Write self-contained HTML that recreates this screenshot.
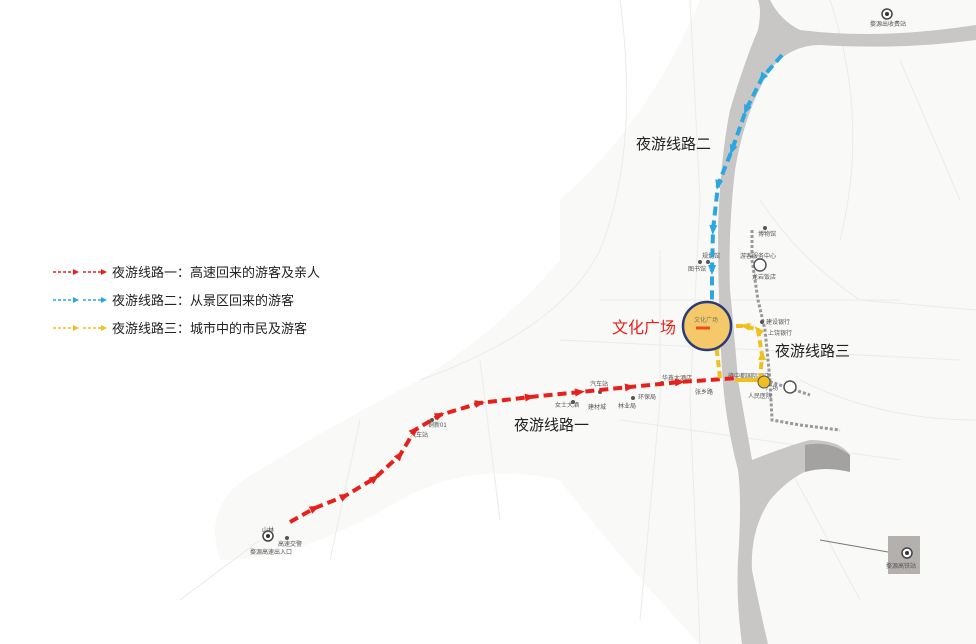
<!DOCTYPE html>
<html><head><meta charset="utf-8"><style>
html,body{margin:0;padding:0;background:#fff;}
svg{display:block;font-family:"Liberation Sans","Noto Sans CJK SC",sans-serif;}
</style></head><body>
<svg width="976" height="644" viewBox="0 0 976 644" xmlns="http://www.w3.org/2000/svg">
<defs>
<marker id="ar" markerUnits="userSpaceOnUse" markerWidth="10" markerHeight="10" refX="5" refY="5" orient="auto"><path d="M0,1 L10,5 L0,9 z" fill="#e8201c"/></marker>
<marker id="ab" markerUnits="userSpaceOnUse" markerWidth="10" markerHeight="10" refX="5" refY="5" orient="auto"><path d="M0,1 L10,5 L0,9 z" fill="#2aa6e0"/></marker>
<marker id="ay" markerUnits="userSpaceOnUse" markerWidth="10" markerHeight="10" refX="5" refY="5" orient="auto"><path d="M0,1 L10,5 L0,9 z" fill="#f2c01e"/></marker>
<marker id="lr" markerUnits="userSpaceOnUse" markerWidth="6" markerHeight="6" refX="3" refY="3" orient="auto"><path d="M0,0 L6,3 L0,6 z" fill="#e8201c"/></marker>
<marker id="lb" markerUnits="userSpaceOnUse" markerWidth="6" markerHeight="6" refX="3" refY="3" orient="auto"><path d="M0,0 L6,3 L0,6 z" fill="#2aa6e0"/></marker>
<marker id="ly" markerUnits="userSpaceOnUse" markerWidth="6" markerHeight="6" refX="3" refY="3" orient="auto"><path d="M0,0 L6,3 L0,6 z" fill="#f2c01e"/></marker>
</defs>
<rect width="976" height="644" fill="#fff"/>
<!-- faint map backdrop -->
<path d="M560,200 Q650,120 700,0 L976,0 L976,644 L700,644 Q620,560 560,480 Q470,460 400,500 Q300,560 220,560 Q200,500 260,470 Q340,420 420,380 Q500,330 560,260 Z" fill="#f9f9f8"/>
<g stroke="#ebebea" stroke-width="1" fill="none">
<path d="M620,0 Q640,150 600,250 Q560,330 420,380"/>
<path d="M660,250 L660,400 L640,620"/>
<path d="M690,0 L700,200 L690,400 L700,644"/>
<path d="M760,200 Q800,260 860,300 L976,310"/>
<path d="M600,300 L900,300"/><path d="M560,340 L960,360"/>
<path d="M800,380 Q880,420 976,420"/><path d="M780,450 L860,600"/>
<path d="M480,360 L500,520"/><path d="M360,420 L330,560"/>
<path d="M620,420 L900,460"/><path d="M830,0 Q870,120 840,240"/>
<path d="M900,60 L960,200"/><path d="M260,540 L180,600"/>
</g>
<!-- river -->
<path d="M770,0 Q780,20 800,30 Q880,40 976,25 L976,40 Q900,50 820,45 Q790,45 770,70 Q745,110 735,170 Q728,230 730,290 Q734,330 738,380 Q745,420 752,460 Q790,445 810,440 Q840,440 850,455 L835,465 Q800,465 770,500 Q750,530 752,570 Q760,610 768,644 L742,644 Q736,600 738,560 Q742,500 738,470 Q725,420 722,370 Q718,300 718,230 Q720,160 730,110 Q745,60 758,30 Q762,10 758,0 Z" fill="#c8c7c5"/>
<path d="M805,445 Q830,440 850,455 L850,472 Q825,466 805,472 Z" fill="#a3a2a0"/>
<rect x="888" y="536" width="32" height="38" fill="#b3b0ad"/>
<line x1="820" y1="540" x2="888" y2="552" stroke="#777" stroke-width="1"/>
<!-- grey dotted route -->
<path d="M752,230 L752,260 L758,300 L765,330 L770,380 L772,420 L800,425 L840,430" stroke="#999" stroke-width="3" stroke-dasharray="3,2" fill="none"/>
<path d="M765,380 L810,395" stroke="#999" stroke-width="3" stroke-dasharray="3,2" fill="none"/>
<circle cx="760" cy="265" r="6" fill="#fff" stroke="#555" stroke-width="1.5"/>
<circle cx="790" cy="387" r="6" fill="#fff" stroke="#555" stroke-width="1.5"/>
<circle cx="887" cy="14" r="5" fill="#fff" stroke="#444" stroke-width="1.5"/><circle cx="887" cy="14" r="2" fill="#333"/>
<circle cx="907" cy="553" r="5" fill="#fff" stroke="#444" stroke-width="1.5"/><circle cx="907" cy="553" r="2" fill="#333"/>
<circle cx="268" cy="536" r="5" fill="#fff" stroke="#444" stroke-width="1.5"/><circle cx="268" cy="536" r="2" fill="#333"/>
<!-- small poi dots & labels -->
<g fill="#555" font-size="6">
<circle cx="765" cy="228" r="2"/><text x="758" y="236">博物馆</text>
<text x="740" y="258">游客服务中心</text><text x="752" y="279">龙岩饭店</text>
<circle cx="700" cy="262" r="2"/><circle cx="708" cy="262" r="2"/><text x="702" y="258">规划馆</text><text x="688" y="271">图书馆</text>
<circle cx="762" cy="322" r="2"/><text x="766" y="324">建设银行</text><text x="768" y="335">上饶银行</text>
<text x="728" y="378">赣中都国际酒店</text><text x="748" y="398">人民医院</text><text x="766" y="390">广场</text>
<circle cx="662" cy="383" r="2"/><text x="662" y="380">华鑫大酒店</text><text x="695" y="394">张乡路</text>
<circle cx="600" cy="392" r="2"/><text x="590" y="386">汽车站</text>
<circle cx="633" cy="398" r="2"/><text x="638" y="399">环保局</text><text x="618" y="408">林业局</text>
<circle cx="573" cy="402" r="2"/><text x="555" y="407">女士大酒</text><text x="588" y="409">建材城</text>
<circle cx="432" cy="420" r="2"/><text x="428" y="427">铜新01</text><text x="410" y="437">汽车站</text>
<circle cx="287" cy="538" r="2"/><text x="262" y="532">山林</text><text x="278" y="546">高速交警</text><text x="250" y="554">婺源高速出入口</text>
<text x="870" y="26">婺源出收费站</text><text x="886" y="568">婺源高铁站</text>
</g>
<!-- routes -->
<path d="M290,522 L315,508 L345,496 L375,478 L400,455 L415,430 L440,415 L480,403 L530,397 L580,392 L630,387 L680,382 L738,378" stroke="#e8201c" stroke-width="4" stroke-dasharray="9,5" fill="none" marker-mid="url(#ar)"/>
<path d="M782,55 L762,78 L746,110 L732,150 L718,185 L713,230 L712,270 L712,300" stroke="#2aa6e0" stroke-width="4" stroke-dasharray="9,5" fill="none" marker-mid="url(#ab)"/>
<path d="M760,380 L762,355 L758,330 L745,326 L732,326" stroke="#f2c01e" stroke-width="4" stroke-dasharray="7,4" fill="none" marker-mid="url(#ay)"/>
<path d="M720,378 L718,360 L716,345" stroke="#f2c01e" stroke-width="4" stroke-dasharray="7,4" fill="none" marker-end="url(#ay)"/>
<path d="M735,380 L760,380" stroke="#f2c01e" stroke-width="4"/>
<circle cx="764" cy="382" r="6" fill="#f2c01e" stroke="#555" stroke-width="1"/>
<!-- culture square -->
<circle cx="707" cy="326" r="24" fill="#f5c96a" stroke="#2b3a78" stroke-width="2.5"/>
<text x="694" y="322" font-size="6" fill="#776">文化广场</text>
<path d="M710,328 L696,328" stroke="#e8501c" stroke-width="3"/>
<!-- labels -->
<text x="612" y="333" font-size="16" fill="#e8201c">文化广场</text>
<text x="636" y="149" font-size="15" fill="#222">夜游线路二</text>
<text x="775" y="356" font-size="15" fill="#222">夜游线路三</text>
<text x="514" y="430" font-size="15" fill="#222">夜游线路一</text>
<!-- legend -->
<g font-size="13" fill="#222">
<line x1="53" y1="272" x2="76" y2="272" stroke="#e8201c" stroke-width="1.6" stroke-dasharray="3,2" marker-end="url(#lr)"/>
<line x1="83" y1="272" x2="104" y2="272" stroke="#e8201c" stroke-width="1.6" stroke-dasharray="3,2" marker-end="url(#lr)"/>
<text x="112" y="277">夜游线路一：高速回来的游客及亲人</text>
<line x1="53" y1="300" x2="76" y2="300" stroke="#2aa6e0" stroke-width="1.6" stroke-dasharray="3,2" marker-end="url(#lb)"/>
<line x1="83" y1="300" x2="104" y2="300" stroke="#2aa6e0" stroke-width="1.6" stroke-dasharray="3,2" marker-end="url(#lb)"/>
<text x="112" y="305">夜游线路二：从景区回来的游客</text>
<line x1="53" y1="328" x2="76" y2="328" stroke="#f2c01e" stroke-width="1.6" stroke-dasharray="3,2" marker-end="url(#ly)"/>
<line x1="83" y1="328" x2="104" y2="328" stroke="#f2c01e" stroke-width="1.6" stroke-dasharray="3,2" marker-end="url(#ly)"/>
<text x="112" y="333">夜游线路三：城市中的市民及游客</text>
</g>
</svg>
</body></html>
